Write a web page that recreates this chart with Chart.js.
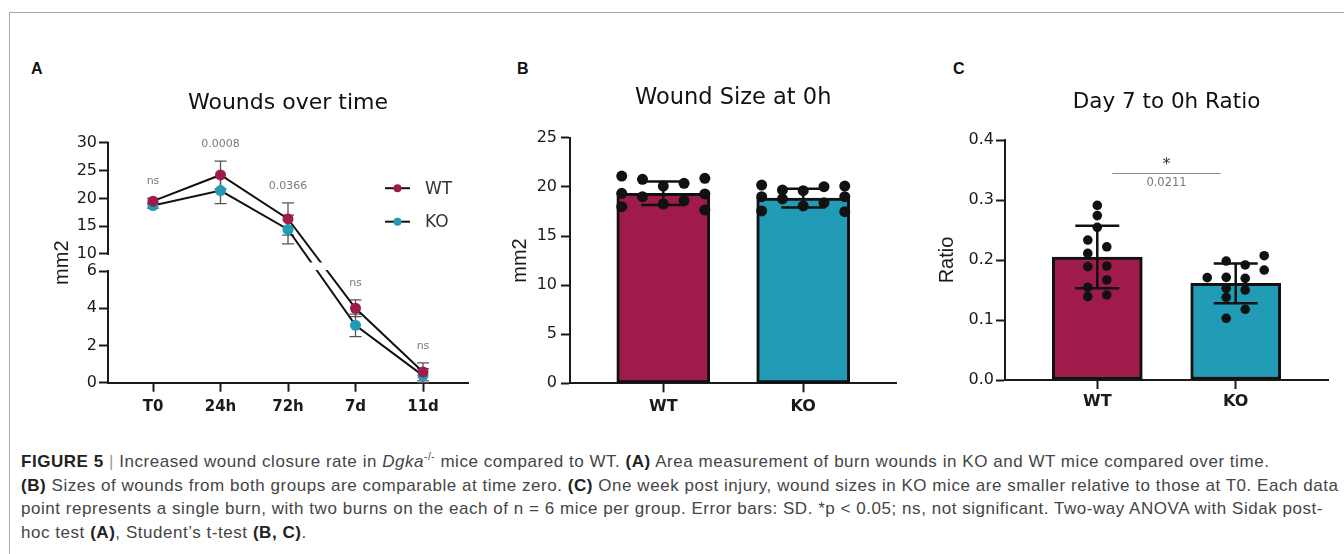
<!DOCTYPE html>
<html>
<head>
<meta charset="utf-8">
<title>Figure 5 - wound closure</title>
<script src="https://cdn.jsdelivr.net/npm/chart.js"></script>
<style>
  html, body { margin: 0; padding: 0; background: #fff; }
  body { width: 1344px; height: 554px; position: relative; overflow: hidden; font-family: 'Liberation Sans', Arial, sans-serif; }
  .frame { position: absolute; left: 9px; top: 12px; right: 0; bottom: 0; border-top: 1px solid #a9a9a9; border-left: 1px solid #a9a9a9; }
  .panel-label { position: absolute; top: 61px; font: bold 16px 'Liberation Sans', Arial, sans-serif; line-height: 16px; color: #111; }
  canvas { position: absolute; top: 60px; }
  #caption { position: absolute; left: 21px; top: 450px; font-family: 'Liberation Sans', Arial, sans-serif; font-size: 17px; letter-spacing: 0.54px; line-height: 23.7px; color: #454545; white-space: nowrap; }
  #caption b { color: #222; }
  #caption .sep { color: #9a9a9a; }
  #caption sup { font-size: 10px; line-height: 0; }
</style>
</head>
<body>
  <div class="frame"></div>

  <div class="panel-label" style="left:31px">A</div>
  <div class="panel-label" style="left:517px">B</div>
  <div class="panel-label" style="left:953px">C</div>

  <canvas id="chartA" width="480" height="370" style="left:10px"></canvas>
  <canvas id="chartB" width="412" height="370" style="left:490px"></canvas>
  <canvas id="chartC" width="444" height="370" style="left:900px"></canvas>

  <div id="caption">
    <div><b>FIGURE 5</b> <span class="sep">|</span> Increased wound closure rate in <i>Dgka</i><sup>-/-</sup> mice compared to WT. <b>(A)</b> Area measurement of burn wounds in KO and WT mice compared over time.</div>
    <div><b>(B)</b> Sizes of wounds from both groups are comparable at time zero. <b>(C)</b> One week post injury, wound sizes in KO mice are smaller relative to those at T0. Each data</div>
    <div>point represents a single burn, with two burns on the each of n = 6 mice per group. Error bars: SD. *p &lt; 0.05; ns, not significant. Two-way ANOVA with Sidak post-</div>
    <div>hoc test <b>(A)</b>, Student’s t-test <b>(B, C)</b>.</div>
  </div>

<script>
  // ---- Data ----

  // Panel A: wound area over time (mm2), mean and SD
  const timeLabels = ['T0', '24h', '72h', '7d', '11d'];
  const wtArea   = [19.5, 24.2, 16.3, 4.0, 0.58];
  const wtAreaSd = [0.5, 2.5, 2.9, 0.45, 0.48];
  const koArea   = [18.7, 21.4, 14.4, 3.08, 0.38];
  const koAreaSd = [0.45, 2.35, 2.6, 0.6, 0.38];
  const pValuesA = ['ns', '0.0008', '0.0366', 'ns', 'ns'];
  const yTicksA  = [0, 2, 4, 6, 10, 15, 20, 25, 30];
  const yBreakA  = [6, 10];   // axis is cut between these two values

  // Panel B: wound size at 0h (mm2)
  const groups   = ['WT', 'KO'];
  const sizeMean = [19.35, 18.85];
  const sizeSd   = [1.2, 0.95];
  const wtSize   = [21.1, 20.77, 20.09, 20.36, 20.87, 19.35, 19.0, 18.26, 18.6, 19.28, 17.99, 17.65];
  const koSize   = [20.19, 19.68, 19.61, 20.02, 20.09, 19.0, 18.77, 18.06, 18.39, 19.0, 17.55, 17.48];
  const yTicksB  = [0, 5, 10, 15, 20, 25];

  // Panel C: day 7 to 0h ratio
  const ratioMean = [0.205, 0.161];
  const ratioSd   = [0.052, 0.033];
  const wtRatio   = [0.291, 0.274, 0.2545, 0.2333, 0.222, 0.211, 0.189, 0.19, 0.1667, 0.1545, 0.1389, 0.1417];
  const koRatio   = [0.2072, 0.1983, 0.1917, 0.1833, 0.1706, 0.1711, 0.1694, 0.1528, 0.15, 0.1378, 0.1178, 0.1028];
  const yTicksC   = [0, 0.1, 0.2, 0.3, 0.4];
  const pValueC   = '0.0211';
  const starC     = '*';

  // ---- Layout / style ----
  const WT_COLOR = '#9e1b4b';
  const KO_COLOR = '#219bb6';
  const INK = '#1a1a1a';
  const FONT = "'DejaVu Sans', sans-serif";
  const FONT_ARIAL = "'Liberation Sans', Arial, sans-serif";

  // column slots for the scattered dots (GraphPad style spread)
  const wtSlotsB = [-2, -1, 0, 1, 2, -2, -1, 0, 1, 2, -2, 2];
  const koSlotsB = [-2, -1, 0, 1, 2, -2, -1, 0, 1, 2, -2, 2];
  const wtSlotsC = [0, 0, 0, -1, 1, -1, -1, 1, 1, -1, -1, 1];
  const koSlotsC = [3, -1, 1, 3, -3, -1, 1, -1, 1, -1, 1, -1];

  // ---- Broken y axis for panel A ----
  const LOW_FRAC = 0.4654;   // share of the axis height used by the 0-6 segment
  const HIGH_START = 0.5363; // where the 10-30 segment starts

  class BrokenScale extends Chart.LinearScale {
    buildTicks() {
      return yTicksA.map(v => ({ value: v }));
    }
    toDecimal(v) {
      const lo = yBreakA[0], hi = yBreakA[1], max = this.max;
      if (v <= lo) return v / lo * LOW_FRAC;
      if (v >= hi) return HIGH_START + (v - hi) / (max - hi) * (1 - HIGH_START);
      return LOW_FRAC + (v - lo) / (hi - lo) * (HIGH_START - LOW_FRAC);
    }
    getPixelForValue(v) {
      if (v === null || isNaN(v)) return NaN;
      return this.getPixelForDecimal(this.toDecimal(v));
    }
    getValueForPixel(p) {
      const d = this.getDecimalForPixel(p);
      const lo = yBreakA[0], hi = yBreakA[1], max = this.max;
      if (d <= LOW_FRAC) return d / LOW_FRAC * lo;
      if (d >= HIGH_START) return hi + (d - HIGH_START) / (1 - HIGH_START) * (max - hi);
      return lo + (d - LOW_FRAC) / (HIGH_START - LOW_FRAC) * (hi - lo);
    }
  }
  BrokenScale.id = 'broken';
  BrokenScale.defaults = Chart.LinearScale.defaults;
  Chart.register(BrokenScale);

  // common axis pieces
  function tickGrid() {
    return { display: true, offset: false, drawOnChartArea: false, drawTicks: true, tickLength: 9, tickWidth: 2, tickColor: INK };
  }
  function categoryAxis(labels, fontSize, padding) {
    return {
      type: 'linear',
      offset: false,
      bounds: 'data',
      min: -2 / 3,
      max: labels.length - 1 + 2 / 3,
      afterBuildTicks: s => { s.ticks = labels.map((_, i) => ({ value: i })); },
      afterFit: s => { s.height = 40; },
      ticks: { callback: v => labels[v], autoSkip: false, maxRotation: 0, padding: padding, color: INK, font: { family: FONT, size: fontSize, weight: 'bold' } },
      grid: tickGrid(),
      border: { display: true, color: INK, width: 2 }
    };
  }
  function titleOpts(text, size, top, bottom) {
    return { display: true, text: text, fullSize: false, color: '#111', font: { family: FONT, size: size, weight: 'normal' }, padding: { top: top, bottom: bottom } };
  }
  function axisTitle(text) {
    return { display: true, text: text, color: INK, padding: 0, font: { family: FONT_ARIAL, size: 20 } };
  }

  // ---- Plugins ----

  // Panel A: SD bars, p-value labels, axis break, legend
  const timeCoursePlugin = {
    id: 'timeCourse',
    beforeDatasetsDraw(chart) {
      const ctx = chart.ctx, xs = chart.scales.x, ys = chart.scales.y;
      const series = [[wtArea, wtAreaSd], [koArea, koAreaSd]];
      ctx.save();
      ctx.strokeStyle = '#555';
      ctx.lineWidth = 1.3;
      series.forEach(([m, sd]) => {
        m.forEach((v, i) => {
          const x = xs.getPixelForValue(i);
          const t = ys.getPixelForValue(v + sd[i]);
          const b = ys.getPixelForValue(Math.max(0, v - sd[i]));
          ctx.beginPath();
          ctx.moveTo(x, t); ctx.lineTo(x, b);
          ctx.moveTo(x - 6, t); ctx.lineTo(x + 6, t);
          ctx.moveTo(x - 6, b); ctx.lineTo(x + 6, b);
          ctx.stroke();
        });
      });
      ctx.restore();
    },
    afterDatasetsDraw(chart) {
      const ctx = chart.ctx, xs = chart.scales.x, ys = chart.scales.y, area = chart.chartArea;

      // white gap where the axis is cut
      const gTop = ys.getPixelForValue((yBreakA[0] + yBreakA[1]) / 2);
      const gBot = ys.getPixelForValue(yBreakA[0]);
      ctx.save();
      ctx.fillStyle = '#fff';
      ctx.fillRect(area.left + 2, gTop, area.right - area.left, gBot - gTop - 1);

      // the two y axis segments
      ctx.strokeStyle = INK;
      ctx.lineWidth = 2;
      ctx.beginPath();
      ctx.moveTo(area.left, ys.getPixelForValue(ys.max) - 1);
      ctx.lineTo(area.left, ys.getPixelForValue(yBreakA[1]) + 1);
      ctx.moveTo(area.left, ys.getPixelForValue(yBreakA[0]) - 1);
      ctx.lineTo(area.left, ys.getPixelForValue(0) + 1);
      ctx.stroke();

      // p-value labels above each time point
      ctx.fillStyle = '#7a7a7a';
      ctx.font = '11px ' + FONT;
      ctx.textAlign = 'center';
      ctx.textBaseline = 'middle';
      pValuesA.forEach((txt, i) => {
        const top = Math.max(wtArea[i] + wtAreaSd[i], koArea[i] + koAreaSd[i]);
        ctx.fillText(txt, xs.getPixelForValue(i), ys.getPixelForValue(top) - 17);
      });

      // legend: line with dot, then label
      chart.data.datasets.forEach((ds, k) => {
        const y = area.top + 45.5 + k * 33.5;
        const x0 = area.left + 277;
        ctx.strokeStyle = '#111';
        ctx.lineWidth = 2;
        ctx.beginPath();
        ctx.moveTo(x0, y); ctx.lineTo(x0 + 25, y);
        ctx.stroke();
        ctx.fillStyle = ds.pointBackgroundColor;
        ctx.beginPath();
        ctx.arc(x0 + 12.5, y, 4, 0, Math.PI * 2);
        ctx.fill();
        ctx.fillStyle = '#333';
        ctx.font = '17px ' + FONT;
        ctx.textAlign = 'left';
        ctx.fillText(ds.label, x0 + 40, y + 1);
      });
      ctx.restore();
    }
  };

  // Panels B and C: SD bars on top of the bars and dots
  const barErrorPlugin = {
    id: 'barError',
    afterDatasetsDraw(chart, args, opts) {
      const ctx = chart.ctx, ys = chart.scales.y;
      const meta = chart.getDatasetMeta(0);
      const means = chart.data.datasets[0].data;
      ctx.save();
      ctx.strokeStyle = '#111';
      ctx.lineWidth = 2.5;
      meta.data.forEach((bar, i) => {
        const t = ys.getPixelForValue(means[i].y + opts.sd[i]);
        const b = ys.getPixelForValue(means[i].y - opts.sd[i]);
        ctx.beginPath();
        ctx.moveTo(bar.x, t); ctx.lineTo(bar.x, b);
        ctx.moveTo(bar.x - opts.cap, t); ctx.lineTo(bar.x + opts.cap, t);
        ctx.moveTo(bar.x - opts.cap, b); ctx.lineTo(bar.x + opts.cap, b);
        ctx.stroke();
      });
      ctx.restore();
    }
  };

  // Panel C: significance bracket between WT and KO
  const sigPlugin = {
    id: 'sig',
    afterDatasetsDraw(chart, args, opts) {
      if (!opts.show) return;
      const ctx = chart.ctx, xs = chart.scales.x, ys = chart.scales.y;
      const y = ys.getPixelForValue(opts.level);
      const x0 = xs.getPixelForValue(0) + 15, x1 = xs.getPixelForValue(1) - 15;
      ctx.save();
      ctx.strokeStyle = '#8a8a8a';
      ctx.lineWidth = 1;
      ctx.beginPath();
      ctx.moveTo(x0, Math.round(y) + 0.5); ctx.lineTo(x1, Math.round(y) + 0.5);
      ctx.stroke();
      ctx.fillStyle = '#333';
      ctx.textAlign = 'center';
      ctx.textBaseline = 'middle';
      ctx.font = '16px ' + FONT;
      ctx.fillText(starC, (x0 + x1) / 2, y - 8);
      ctx.fillStyle = '#777';
      ctx.font = '11.5px ' + FONT;
      ctx.fillText(pValueC, (x0 + x1) / 2, y + 10);
      ctx.restore();
    }
  };

  // ---- Panel A: line chart with broken axis ----
  function initTimeCourse() {
    const series = (label, values, color) => ({
      label: label,
      data: values.map((v, i) => ({ x: i, y: v })),
      borderColor: '#111',
      borderWidth: 2,
      tension: 0,
      pointRadius: 5.5,
      pointBorderWidth: 0,
      pointBackgroundColor: color,
      pointBorderColor: color
    });

    new Chart(document.getElementById('chartA'), {
      type: 'line',
      data: { datasets: [series('WT', wtArea, WT_COLOR), series('KO', koArea, KO_COLOR)] },
      plugins: [timeCoursePlugin],
      options: {
        responsive: false,
        animation: false,
        events: [],
        layout: { padding: { left: 40, right: 22, top: 0, bottom: 7.3 } },
        plugins: {
          legend: { display: false },
          tooltip: { enabled: false },
          title: titleOpts('Wounds over time', 22, 30.1, 26.2)
        },
        scales: {
          x: categoryAxis(timeLabels, 15, 6),
          y: {
            type: 'broken',
            min: 0,
            max: 30,
            afterFit: s => { s.width = 58; },
            ticks: { callback: v => String(v), autoSkip: false, padding: 2, color: INK, font: { family: FONT, size: 16 } },
            grid: tickGrid(),
            border: { display: false },
            title: axisTitle('mm2')
          }
        }
      }
    });
  }

  // ---- Panels B and C: bar + dots ----
  function initBarPanel(id, p) {
    const dots = (values, slots, index) => values.map((v, k) => ({ x: index + slots[k] * p.dotStep, y: v }));

    return new Chart(document.getElementById(id), {
      type: 'bar',
      data: {
        datasets: [
          {
            type: 'bar',
            data: p.means.map((v, i) => ({ x: i, y: v })),
            backgroundColor: [WT_COLOR, KO_COLOR],
            borderColor: '#111',
            borderWidth: 3,
            borderSkipped: false,
            barThickness: p.barWidth,
            order: 1
          },
          { type: 'scatter', data: dots(p.wt, p.wtSlots, 0), pointRadius: p.dotRadius, pointBorderWidth: 0, pointBackgroundColor: '#111', order: 0 },
          { type: 'scatter', data: dots(p.ko, p.koSlots, 1), pointRadius: p.dotRadius, pointBorderWidth: 0, pointBackgroundColor: '#111', order: 0 }
        ]
      },
      plugins: [barErrorPlugin, sigPlugin],
      options: {
        responsive: false,
        animation: false,
        events: [],
        layout: { padding: p.padding },
        plugins: {
          legend: { display: false },
          tooltip: { enabled: false },
          title: titleOpts(p.title, p.titleSize, p.titleTop, p.titleBottom),
          barError: { sd: p.sds, cap: 22 },
          sig: p.sig
        },
        scales: {
          x: categoryAxis(groups, 16, p.xPad),
          y: {
            type: 'linear',
            min: p.yTicks[0],
            max: p.yTicks[p.yTicks.length - 1],
            afterBuildTicks: s => { s.ticks = p.yTicks.map(v => ({ value: v })); },
            afterFit: s => { s.width = p.yWidth; },
            ticks: { callback: p.fmt, autoSkip: false, padding: p.yPad, color: INK, font: { family: FONT, size: 16 } },
            grid: tickGrid(),
            border: { display: true, color: INK, width: 2 },
            title: axisTitle(p.yTitle)
          }
        }
      }
    });
  }

  function initCharts() {
    initTimeCourse();

    initBarPanel('chartB', {
      title: 'Wound Size at 0h', titleSize: 22.5, titleTop: 24.8, titleBottom: 26.0,
      yTitle: 'mm2', yTicks: yTicksB, fmt: v => String(v),
      means: sizeMean, sds: sizeSd, wt: wtSize, ko: koSize,
      wtSlots: wtSlotsB, koSlots: koSlotsB, dotStep: 0.1485, dotRadius: 5.5,
      barWidth: 93, yWidth: 61.4, yPad: 4, xPad: 4.8,
      padding: { left: 18.6, right: 2, top: 0, bottom: 6.7 },
      sig: { show: false }
    });

    initBarPanel('chartC', {
      title: 'Day 7 to 0h Ratio', titleSize: 21.5, titleTop: 29.8, titleBottom: 24.4,
      yTitle: 'Ratio', yTicks: yTicksC, fmt: v => v.toFixed(1),
      means: ratioMean, sds: ratioSd, wt: wtRatio, ko: koRatio,
      wtSlots: wtSlotsC, koSlots: koSlotsC, dotStep: 0.0686, dotRadius: 4.8,
      barWidth: 90, yWidth: 69.7, yPad: 2, xPad: 3.7,
      padding: { left: 35.3, right: 16, top: 0, bottom: 10 },
      sig: { show: true, level: 0.3445 }
    });
  }

  initCharts();
</script>
</body>
</html>
